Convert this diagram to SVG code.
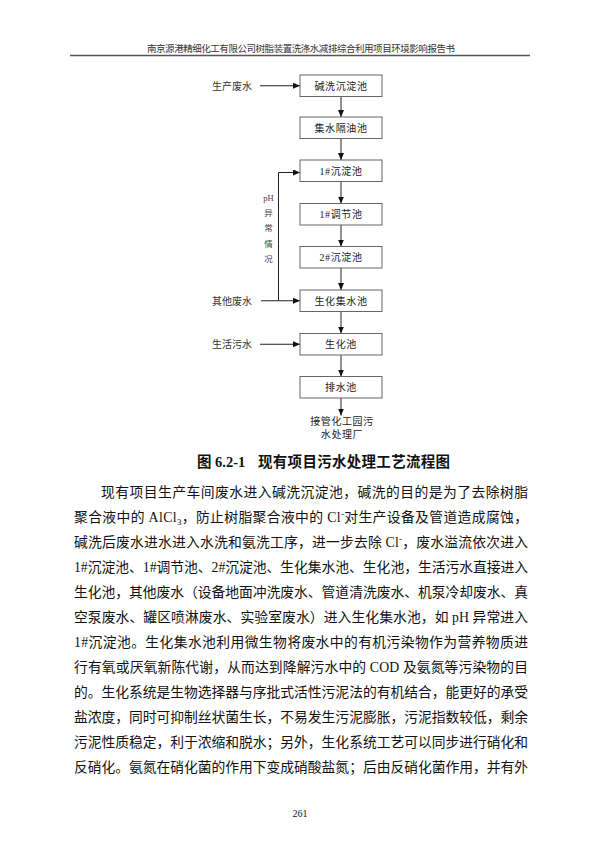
<svg xmlns="http://www.w3.org/2000/svg" width="600" height="848" viewBox="0 0 600 848">
<style>
.t{font-family:'Liberation Serif','Noto Sans CJK SC',serif;fill:#111}
.hd{font-size:9.5px;fill:#333}
.nd{font-size:10px;text-anchor:middle;letter-spacing:0.6px;fill:#222}
.lb{font-size:10px;fill:#333}
.ph{font-size:8.5px;text-anchor:middle;fill:#444}
.box{fill:#fff;stroke:#666;stroke-width:1}
.ln{fill:none;stroke:#222;stroke-width:1}
.p{font-size:13.8px}
.cap{font-size:14.5px;font-weight:bold}
</style>
<defs>
<marker id="ah" markerWidth="8" markerHeight="6" refX="7" refY="3" orient="auto" markerUnits="userSpaceOnUse">
<path d="M0,0 L7,3 L0,6 Z" fill="#111"/>
</marker>
</defs>
<rect width="600" height="848" fill="#fff"/>
<text class="t hd" x="147" y="52" textLength="308" lengthAdjust="spacing">南京源港精细化工有限公司树脂装置洗涤水减排综合利用项目环境影响报告书</text>
<line x1="70" y1="55.5" x2="530" y2="55.5" stroke="#555" stroke-width="1.3"/>

<g id="connectors">
<line class="ln" x1="260" y1="85.75" x2="300" y2="85.75" marker-end="url(#ah)"/>
<line class="ln" x1="341" y1="96.5" x2="341" y2="117" marker-end="url(#ah)"/>
<line class="ln" x1="341" y1="138.5" x2="341" y2="160" marker-end="url(#ah)"/>
<line class="ln" x1="341" y1="181.5" x2="341" y2="203.5" marker-end="url(#ah)"/>
<line class="ln" x1="341" y1="225" x2="341" y2="246.5" marker-end="url(#ah)"/>
<line class="ln" x1="341" y1="268" x2="341" y2="290" marker-end="url(#ah)"/>
<line class="ln" x1="341" y1="311.5" x2="341" y2="333.5" marker-end="url(#ah)"/>
<line class="ln" x1="341" y1="355" x2="341" y2="376.5" marker-end="url(#ah)"/>
<line class="ln" x1="341" y1="398" x2="341" y2="415.5" marker-end="url(#ah)"/>
<line class="ln" x1="261" y1="300.75" x2="300" y2="300.75" marker-end="url(#ah)"/>
<path class="ln" d="M278.5,300.75 V172.5 H300" marker-end="url(#ah)"/>
<line class="ln" x1="260" y1="344.25" x2="300" y2="344.25" marker-end="url(#ah)"/>
</g>

<g id="n-jianxi"><rect class="box" x="300" y="75" width="82" height="21.5"/><text class="t nd" x="341" y="89.5">碱洗沉淀池</text></g>
<g id="n-jishui"><rect class="box" x="300" y="117" width="82" height="21.5"/><text class="t nd" x="341" y="131.5">集水隔油池</text></g>
<g id="n-chendian1"><rect class="box" x="300" y="160" width="82" height="21.5"/><text class="t nd" x="341" y="174.5">1#沉淀池</text></g>
<g id="n-tiaojie1"><rect class="box" x="300" y="203.5" width="82" height="21.5"/><text class="t nd" x="341" y="218">1#调节池</text></g>
<g id="n-chendian2"><rect class="box" x="300" y="246.5" width="82" height="21.5"/><text class="t nd" x="341" y="261">2#沉淀池</text></g>
<g id="n-shenghuajishui"><rect class="box" x="300" y="290" width="82" height="21.5"/><text class="t nd" x="341" y="304.5">生化集水池</text></g>
<g id="n-shenghua"><rect class="box" x="300" y="333.5" width="82" height="21.5"/><text class="t nd" x="341" y="348">生化池</text></g>
<g id="n-paishui"><rect class="box" x="300" y="376.5" width="82" height="21.5"/><text class="t nd" x="341" y="391">排水池</text></g>

<g id="src-production"><text class="t lb" x="212" y="89.5">生产废水</text></g>
<g id="src-other"><text class="t lb" x="212" y="304.5">其他废水</text></g>
<g id="src-domestic"><text class="t lb" x="212" y="348">生活污水</text></g>
<g id="lbl-ph">
<text class="t ph" x="268.5" y="201">pH</text>
<text class="t ph" x="268.5" y="216">异</text>
<text class="t ph" x="268.5" y="231">常</text>
<text class="t ph" x="268.5" y="247">情</text>
<text class="t ph" x="268.5" y="262">况</text>
</g>
<g id="dst-park">
<text class="t nd" x="342" y="425">接管化工园污</text>
<text class="t nd" x="342" y="438">水处理厂</text>
</g>

<text class="t cap" x="197" y="467">图 6.2-1</text>
<text class="t cap" x="258" y="467" textLength="192" lengthAdjust="spacing">现有项目污水处理工艺流程图</text>

<g id="body">
<text class="t p" x="101" y="497" textLength="427" lengthAdjust="spacing">现有项目生产车间废水进入碱洗沉淀池，碱洗的目的是为了去除树脂</text>
<text class="t p" x="74" y="522" textLength="454" lengthAdjust="spacing">聚合液中的 AlCl<tspan font-size="9" dy="3">3</tspan><tspan dy="-3">，防止树脂聚合液中的 Cl</tspan><tspan font-size="9" dy="-5">-</tspan><tspan dy="5">对生产设备及管道造成腐蚀，</tspan></text>
<text class="t p" x="74" y="547" textLength="454" lengthAdjust="spacing">碱洗后废水进水进入水洗和氨洗工序，进一步去除 Cl<tspan font-size="9" dy="-5">-</tspan><tspan dy="5">，废水溢流依次进入</tspan></text>
<text class="t p" x="74" y="572" textLength="454" lengthAdjust="spacing">1#沉淀池、1#调节池、2#沉淀池、生化集水池、生化池，生活污水直接进入</text>
<text class="t p" x="74" y="597" textLength="454" lengthAdjust="spacing">生化池，其他废水（设备地面冲洗废水、管道清洗废水、机泵冷却废水、真</text>
<text class="t p" x="74" y="622" textLength="454" lengthAdjust="spacing">空泵废水、罐区喷淋废水、实验室废水）进入生化集水池，如 pH 异常进入</text>
<text class="t p" x="74" y="647" textLength="454" lengthAdjust="spacing">1#沉淀池。生化集水池利用微生物将废水中的有机污染物作为营养物质进</text>
<text class="t p" x="74" y="672" textLength="454" lengthAdjust="spacing">行有氧或厌氧新陈代谢，从而达到降解污水中的 COD 及氨氮等污染物的目</text>
<text class="t p" x="74" y="697" textLength="454" lengthAdjust="spacing">的。生化系统是生物选择器与序批式活性污泥法的有机结合，能更好的承受</text>
<text class="t p" x="74" y="722" textLength="454" lengthAdjust="spacing">盐浓度，同时可抑制丝状菌生长，不易发生污泥膨胀，污泥指数较低，剩余</text>
<text class="t p" x="74" y="747" textLength="454" lengthAdjust="spacing">污泥性质稳定，利于浓缩和脱水；另外，生化系统工艺可以同步进行硝化和</text>
<text class="t p" x="74" y="772" textLength="454" lengthAdjust="spacing">反硝化。氨氮在硝化菌的作用下变成硝酸盐氮；后由反硝化菌作用，并有外</text>
</g>
<text class="t" x="300" y="817" font-size="10" text-anchor="middle">261</text>
</svg>
